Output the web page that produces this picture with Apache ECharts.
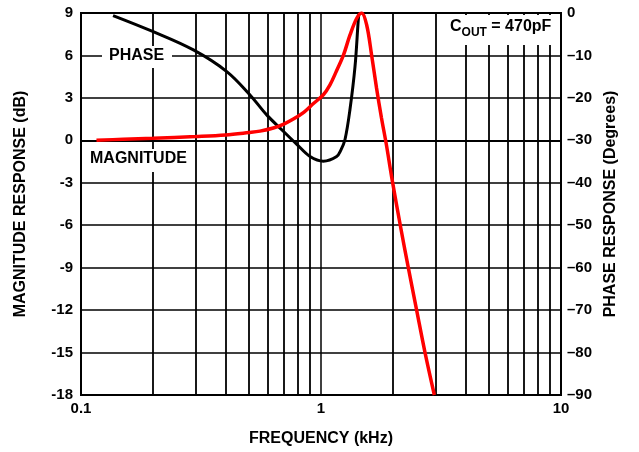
<!DOCTYPE html>
<html><head><meta charset="utf-8">
<script src="https://cdn.jsdelivr.net/npm/echarts@6/dist/echarts.min.js"></script>
<style>html,body{margin:0;padding:0;background:#fff}#c{width:639px;height:452px}</style>
</head><body><div id="c"></div>
<script>
// Frequency (kHz) / magnitude (dB), red curve
const magFreq = [0.116,0.15,0.2,0.3,0.4,0.5,0.557,0.633,0.7,0.767,0.85,0.93,1.023,1.09,1.16,1.239,1.321,1.409,1.477,1.55,1.626,1.704,1.786,1.872,1.97,2.15,2.311,2.503,2.713,2.967];
const magDb   = [0.0,0.08,0.15,0.27,0.38,0.55,0.65,0.87,1.15,1.5,2.0,2.6,3.22,3.92,4.9,6.0,7.45,8.63,9.0,8.15,6.0,3.69,1.6,-0.3,-2.6,-6.2,-9.0,-12.0,-15.0,-18.0];
// Frequency (kHz) / phase (degrees), black curve
const phFreq = [0.136,0.2,0.294,0.405,0.506,0.594,0.686,0.795,0.9,1.023,1.162,1.21,1.259,1.32,1.386,1.43,1.44];
const phDeg  = [-0.6,-4.4,-8.7,-13.8,-19.3,-24.0,-27.5,-31.0,-33.8,-34.9,-33.8,-32.3,-29.8,-22.8,-12.6,-1.6,0];
// minor vertical grid positions (kHz)
const minorGrid = [0.2,0.3,0.4,0.5,0.6,0.7,0.8,0.9,2,3,4,5,6,7,8,9];
const leftTicks = {min:-18, max:9, interval:3};
const rightTicks = {min:-90, max:0, interval:10};

const FONT = '"Liberation Sans", Arial, sans-serif';
const chart = echarts.init(document.getElementById('c'), null, {renderer:'canvas'});
const lbl = {fontFamily:FONT, fontWeight:'bold', fontSize:15, color:'#000'};
const nameStyle = {fontFamily:FONT, fontWeight:'bold', fontSize:16, color:'#000'};
chart.setOption({
  animation:false,
  grid:{left:81, right:78, top:13, bottom:56, show:true, borderColor:'#000', borderWidth:2, backgroundColor:'transparent'},
  xAxis:{type:'log', logBase:10, min:0.1, max:10,
    name:'FREQUENCY (kHz)', nameLocation:'middle', nameGap:36, nameTextStyle:nameStyle,
    axisLine:{lineStyle:{color:'#000', width:2}}, axisTick:{show:false},
    axisLabel:Object.assign({margin:6, formatter:v=>String(+v.toPrecision(3))}, lbl),
    splitLine:{show:true, lineStyle:{color:'#000', width:1.5}}},
  yAxis:[
    {type:'value', min:leftTicks.min, max:leftTicks.max, interval:leftTicks.interval, position:'left',
     name:'MAGNITUDE RESPONSE (dB)', nameLocation:'middle', nameGap:52, nameRotate:90, nameTextStyle:nameStyle,
     axisLine:{show:true, lineStyle:{color:'#000', width:2}}, axisTick:{show:false},
     axisLabel:Object.assign({margin:8}, lbl),
     splitLine:{show:true, lineStyle:{color:'#000', width:1.5}}},
    {type:'value', min:rightTicks.min, max:rightTicks.max, interval:rightTicks.interval, position:'right',
     name:'PHASE RESPONSE (Degrees)', nameLocation:'middle', nameGap:42, nameRotate:90, nameTextStyle:nameStyle,
     axisLine:{show:true, lineStyle:{color:'#000', width:2}}, axisTick:{show:false},
     axisLabel:Object.assign({margin:6, formatter:v=>String(v).replace('-','\u2013')}, lbl),
     splitLine:{show:false}}
  ],
  series:[
    {type:'line', yAxisIndex:0, data:[], silent:true,
     markLine:{silent:true, symbol:'none', label:{show:false}, animation:false,
       lineStyle:{color:'#000', width:1.8, type:'solid', opacity:1},
       data:minorGrid.map(v=>({xAxis:v}))}},
    {name:'PHASE', type:'line', yAxisIndex:1, smooth:0.35, showSymbol:false, z:5,
     lineStyle:{color:'#000', width:3}, itemStyle:{color:'#000'},
     data:phFreq.map((f,i)=>[f, phDeg[i]])},
    {name:'MAGNITUDE', type:'line', yAxisIndex:0, smooth:0.35, showSymbol:false, z:6,
     lineStyle:{color:'#ff0000', width:3.5}, itemStyle:{color:'#ff0000'},
     data:magFreq.map((f,i)=>[f, magDb[i]])}
  ],
  graphic:[
    {type:'rect', z:100, shape:{x:102, y:46, width:70, height:22}, style:{fill:'#fff'}},
    {type:'text', z:101, left:109, top:48, style:{text:'PHASE', font:'bold 16px '+FONT, fill:'#000'}},
    {type:'rect', z:100, shape:{x:85, y:149, width:106, height:23}, style:{fill:'#fff'}},
    {type:'text', z:101, left:90, top:151, style:{text:'MAGNITUDE', font:'bold 16px '+FONT, fill:'#000'}},
    {type:'rect', z:100, shape:{x:441, y:15, width:119, height:30}, style:{fill:'#fff'}},
    {type:'text', z:101, left:450, top:19, style:{
       text:'{a|C}{b|OUT}{a| = 470pF}',
       rich:{a:{font:'bold 16px '+FONT, fill:'#000', verticalAlign:'top'},
             b:{font:'bold 12px '+FONT, fill:'#000', padding:[8,0,0,0], verticalAlign:'top'}}}}
  ]
});
</script></body></html>
